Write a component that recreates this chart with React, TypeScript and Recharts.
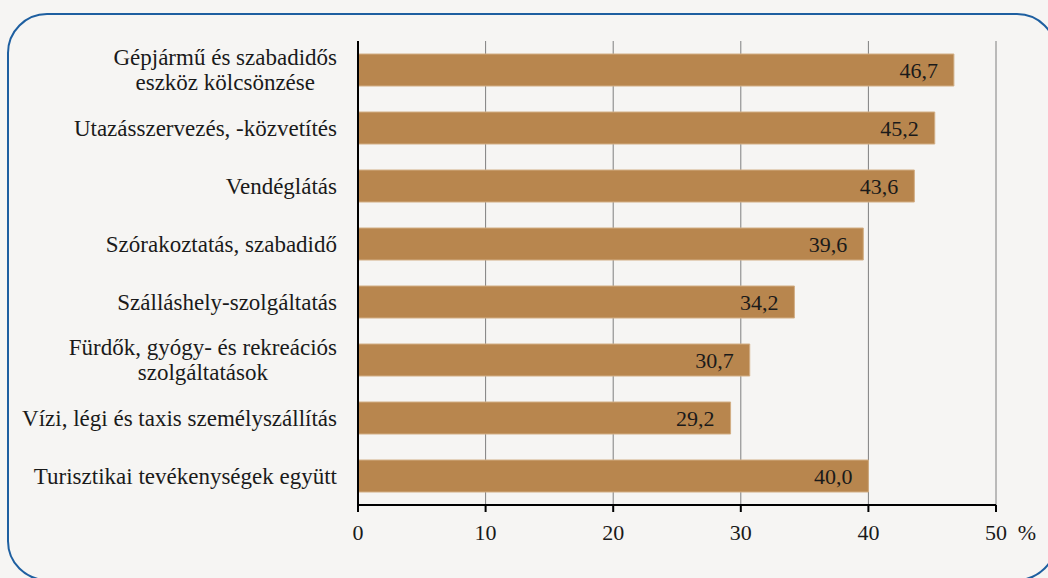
import { BarChart, Bar, XAxis, YAxis, CartesianGrid, LabelList } from 'recharts';

const categories = [
  'Gépjármű és szabadidős\neszköz kölcsönzése',
  'Utazásszervezés, -közvetítés',
  'Vendéglátás',
  'Szórakoztatás, szabadidő',
  'Szálláshely-szolgáltatás',
  'Fürdők, gyógy- és rekreációs\nszolgáltatások',
  'Vízi, légi és taxis személyszállítás',
  'Turisztikai tevékenységek együtt',
];
const values = [46.7, 45.2, 43.6, 39.6, 34.2, 30.7, 29.2, 40.0];
const xTicks = [0, 10, 20, 30, 40, 50];

const FONT = "'Liberation Serif'";
const CAT_SIZE = 23;
const data = categories.map((name, i) => ({ name, value: values[i] }));

// measure text so multi-line labels can be centered as a block
let ctx: CanvasRenderingContext2D | null = null;
function textWidth(s: string) {
  if (!ctx) ctx = document.createElement('canvas').getContext('2d');
  if (!ctx) return s.length * 10;
  ctx.font = `${CAT_SIZE}px ${FONT}`;
  return ctx.measureText(s).width;
}

function CategoryTick(props: any) {
  const { x, y, payload } = props;
  const lines = String(payload.value).split('\n');
  const right = x;
  const w = Math.max(...lines.map(textWidth));
  const cx = right - w / 2;
  const lh = 25;
  const y0 = y - ((lines.length - 1) * lh) / 2;
  return (
    <g>
      {lines.map((l, i) => (
        <text
          key={i}
          x={lines.length > 1 ? cx : right}
          y={y0 + i * lh}
          dy="0.33em"
          textAnchor={lines.length > 1 ? 'middle' : 'end'}
          fontFamily={FONT}
          fontSize={CAT_SIZE}
          fill="#1a1a1a"
        >
          {l}
        </text>
      ))}
    </g>
  );
}

function ValueTick(props: any) {
  const { x, y, payload } = props;
  return (
    <g>
      <text x={x} y={y} dy="0.75em" textAnchor="middle" fontFamily={FONT} fontSize={22} fill="#1a1a1a">
        {payload.value}
      </text>
      {payload.value === 50 && (
        <text x={x + 31} y={y} dy="0.75em" textAnchor="middle" fontFamily={FONT} fontSize={22} fill="#1a1a1a">
          %
        </text>
      )}
    </g>
  );
}

export default function App() {
  return (
    <div
      style={{
        position: 'fixed',
        left: 0,
        top: 0,
        width: 1048,
        height: 578,
        overflow: 'hidden',
        background: '#F6F5F3',
      }}
    >
      <div
        style={{
          position: 'absolute',
          left: 7,
          top: 13,
          width: 1050,
          height: 568,
          border: '2px solid #1E5FA0',
          borderRadius: 40,
          boxSizing: 'border-box',
        }}
      />
      <div style={{ position: 'absolute', left: 0, top: 0 }}>
        <BarChart
          width={1048}
          height={578}
          data={data}
          layout="vertical"
          margin={{ top: 41, right: 52, bottom: 33, left: 0 }}
          barCategoryGap={13}
        >
          <CartesianGrid horizontal={false} stroke="#7f7f7f" strokeWidth={1} />
          <XAxis
            type="number"
            domain={[0, 50]}
            ticks={xTicks}
            interval={0}
            axisLine={{ stroke: '#000', strokeWidth: 2 }}
            tickLine={{ stroke: '#000', strokeWidth: 2 }}
            tickSize={7}
            tickMargin={11}
            height={40}
            tick={<ValueTick />}
          />
          <XAxis
            xAxisId="top"
            orientation="top"
            type="number"
            domain={[0, 50]}
            tick={false}
            tickLine={false}
            axisLine={{ stroke: '#000', strokeWidth: 2 }}
            height={0}
          />
          <YAxis
            type="category"
            dataKey="name"
            width={358}
            axisLine={{ stroke: '#000', strokeWidth: 2 }}
            tickLine={false}
            tickMargin={15}
            interval={0}
            tick={<CategoryTick />}
          />
          <YAxis
            yAxisId="right"
            orientation="right"
            type="category"
            dataKey="name"
            width={0}
            tick={false}
            tickLine={false}
            axisLine={{ stroke: '#000', strokeWidth: 2 }}
          />
          <Bar
            dataKey="value"
            fill="#B8864E"
            stroke="#D2AE84"
            strokeWidth={1}
            barSize={32}
            isAnimationActive={false}
          >
            <LabelList
              dataKey="value"
              position="insideRight"
              offset={16}
              formatter={(v: any) => Number(v).toFixed(1).replace('.', ',')}
              fontFamily={FONT}
              fontSize={22}
              fill="#1a1a1a"
            />
          </Bar>
        </BarChart>
      </div>
    </div>
  );
}
